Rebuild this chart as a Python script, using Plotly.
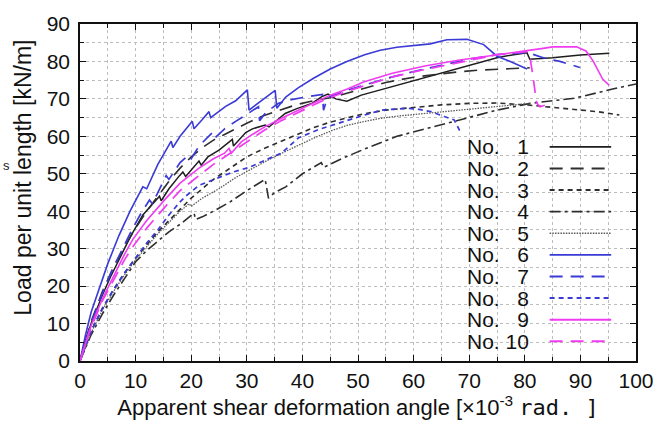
import plotly.graph_objects as go

# ---------------- data ----------------
labels = ["No.\u2007 1", "No.\u2007 2", "No.\u2007 3", "No.\u2007 4", "No.\u2007 5",
          "No.\u2007 6", "No.\u2007 7", "No.\u2007 8", "No.\u2007 9", "No. 10"]

x1 = [0, 1, 2, 4, 5.5, 7.1, 9, 11.3, 12.5, 14.3, 14.6, 16, 17.9, 18.5, 19, 21.4, 21.8, 23, 25, 27.4, 27.6,
      29.8, 31, 33.3, 34, 36.9, 39, 41.7, 43.5, 44.6, 46, 48, 50.6, 53, 56.5, 60, 63, 66, 69, 72, 75, 78,
      80.4, 80.9, 85, 90, 95.2]
y1 = [0, 5.5, 10, 17.5, 22.5, 27.5, 33, 39, 41, 44, 42.8, 46, 49.5, 50.5, 49.3, 53.4, 52.3, 54.5, 56.3, 59.2, 57.4,
      61, 62, 63, 62.5, 66.1, 67.4, 68.8, 70.6, 71.3, 70.0, 69.4, 71.0, 72.0, 73.4, 74.8, 76.1, 77.4, 78.7, 79.9, 81,
      81.8, 82.3, 80.6, 81.0, 81.7, 82.2]

x2 = [0, 1, 2, 4, 6, 8, 10, 12, 14, 16, 18, 20, 22, 24, 26, 28, 30, 33, 36, 39, 42, 45, 48, 51, 55, 60, 64, 68,
      72, 76, 80.9]
y2 = [0, 5.5, 10.5, 18.5, 25, 30.5, 35.5, 40, 44, 48, 51.5, 54.5, 57, 59, 60.5, 62, 63.5, 65.5, 67, 68.5, 69.5,
      70.3, 71.5, 72.8, 74.4, 75.8, 76.6, 77.2, 77.7, 78, 78.3]

x3 = [0, 2, 4, 6, 8, 10, 12, 14, 16, 18, 20, 22, 24, 26, 28, 30, 33, 36, 39, 42, 45, 48, 51, 55, 60, 65, 70, 75,
      81, 87, 93, 97]
y3 = [0, 8, 14, 19, 23.5, 27.5, 31, 34.5, 37.5, 40.5, 43.5, 46, 48.5, 50.5, 52.5, 54.5, 56.7, 58.6, 60.6, 62.3,
      63.8, 65, 66, 67, 67.8, 68.4, 68.8, 68.9, 68.3, 67.5, 66.6, 65.7]

x4 = [0, 2, 4, 6, 8, 10, 12, 14, 16, 18, 20.5, 20.8, 22, 24, 27, 30, 33.3, 33.9, 35, 37, 40, 43.4, 43.8, 47, 51,
      57, 63, 69, 75, 81, 89, 96, 100]
y4 = [0, 7, 12.5, 17.5, 22, 26.5, 29.5, 32, 34.5, 36.5, 39.5, 37.8, 38.5, 40, 42.5, 45.5, 48.5, 43.5, 45, 46.5,
      50, 53, 51.7, 54, 56.5, 60, 62.3, 64.8, 67, 68.8, 70.2, 72.7, 74]

x5 = [0, 2, 4, 6, 8, 10, 12, 14, 16, 18, 19.6, 20, 22, 25, 28, 31, 34, 37, 39.3, 42, 45.2, 48, 51.2, 54, 57.1,
      60, 63.1, 66, 69, 72, 75, 78, 80.9]
y5 = [0, 7.5, 13.5, 18.5, 23, 27, 30.5, 34, 37, 40, 42, 41.3, 43.5, 46, 49, 51.5, 53.8, 56, 57.6, 59.5, 61.5,
      62.9, 64, 64.8, 65.4, 65.8, 66.2, 66.6, 67, 67.5, 67.9, 68.4, 68.8]

x6 = [0, 1, 2, 3.6, 5, 7, 9, 11.3, 12, 14, 16.4, 16.7, 18, 20.2, 20.5, 22, 23.2, 23.5, 26.2, 28, 30.1, 30.4, 33,
      35.1, 35.4, 37, 39.3, 42, 45, 48, 51.2, 54, 57, 60, 63, 66, 69.6, 72.6, 75, 77.4, 80.4]
y6 = [0, 7, 13, 20, 26, 33.5, 40, 46.5, 46, 52.5, 58.7, 57, 60, 64, 62, 64.5, 66.6, 65, 68, 69.5, 72.4, 67, 70,
      72.3, 67.5, 70.5, 73, 75.5, 78, 80, 81.8, 83, 83.8, 84.2, 84.7, 85.8, 85.9, 84.5, 81.4, 80, 78]

x7 = [0, 2, 4, 6, 8, 9.5, 11, 12.5, 13, 15.5, 16, 18, 19.5, 20, 21.4, 23.8, 24.2, 26, 28, 30, 32.1, 32.3, 33.5,
      35.7, 38, 41, 43.6, 43.8, 44.5, 48, 52, 56, 60, 65, 70, 75, 80.4, 83.3, 86.3, 89.9]
y7 = [0, 10, 18, 25, 31, 35.5, 39.5, 43, 42, 49.5, 48.5, 53, 55, 54, 57.4, 61, 59.5, 62, 64, 66, 67.9, 64.2, 66.5,
      68.8, 69.8, 70.6, 71.2, 67, 70.3, 72.3, 74.1, 75.8, 77.3, 79, 80.6, 81.8, 82.4, 81, 80, 78.4]

x8 = [0, 2, 4, 6, 8, 10, 12, 14, 16, 18, 19, 21.4, 24, 27.4, 30.4, 33, 36.3, 39.3, 42.9, 45, 48.2, 51, 54.2,
      58.9, 61, 63.1, 65.5, 67.3, 68.2, 68.3]
y8 = [0, 8, 14, 19, 23.5, 27.5, 31.5, 35, 39, 42.5, 44, 46.9, 48.5, 50.4, 51.7, 53.5, 55.6, 59.6, 61.8, 62.8, 64.4,
      65.6, 67, 67.5, 67.2, 66.6, 65.3, 64.4, 61.8, 60.5]

x9 = [0, 1, 2, 4, 6, 8, 9.5, 12, 15.5, 18, 21.4, 24, 26, 26.8, 27.2, 29, 31, 33.3, 36.9, 41.7, 45, 48.2, 51, 56,
      62, 68, 72.6, 77.4, 80.4, 83.3, 85, 89.3, 91, 92.3, 94, 95.2]
y9 = [0, 5, 9.5, 16.5, 22.5, 28.5, 32.5, 37.5, 43.5, 47.5, 51.5, 54, 55.5, 56.8, 55.5, 58.5, 60.5, 62.6, 65.3,
      68.8, 71, 72.7, 74.5, 76.8, 78.8, 80.3, 81.2, 82.3, 82.9, 83.5, 83.9, 83.9, 82.8, 80.1, 75.3, 73.6]

x10 = [0, 1, 2, 4, 6, 8, 9.5, 12, 15.5, 18, 21.4, 24, 27, 30, 33, 36, 40, 44, 48, 52, 56, 60, 65, 70, 75, 80.4,
       81, 81.5, 81.8, 82.1, 82.7, 83.6]
y10 = [0, 4.5, 9, 16, 21.5, 27, 30.5, 35.5, 41.5, 45.5, 49.5, 52.5, 55.5, 58.5, 61.5, 64, 67, 69.8, 72, 74,
       75.8, 77.2, 78.8, 80.4, 81.8, 82.6, 80.5, 75.8, 72, 69, 67.9, 68.3]

x_ticks = [0, 10, 20, 30, 40, 50, 60, 70, 80, 90, 100]
y_ticks = [0, 10, 20, 30, 40, 50, 60, 70, 80, 90]

xs = [x1, x2, x3, x4, x5, x6, x7, x8, x9, x10]
ys = [y1, y2, y3, y4, y5, y6, y7, y8, y9, y10]

# ---------------- styles ----------------
BLACK = "#1e1e1e"
DGRAY = "#2e2e2e"
GRAY = "#5a5a5a"
BLUE = "#3a3ad6"
MAG = "#f03cf0"
colors = [BLACK, DGRAY, DGRAY, DGRAY, GRAY, BLUE, BLUE, BLUE, MAG, MAG]
dashes = ["solid", "13px,8px", "5px,4px", "11px,4px,3px,4px", "1.5px,1.2px",
          "solid", "13px,8px", "5px,4px", "solid", "13px,8px"]
widths = [1.5, 1.6, 1.6, 1.6, 1.3, 1.6, 1.7, 1.7, 1.6, 1.7]

FONT = "Liberation Sans, Arial, sans-serif"

fig = go.Figure()
for i in range(10):
    fig.add_trace(go.Scatter(x=xs[i], y=ys[i], mode="lines", name=labels[i],
                             line=dict(color=colors[i], dash=dashes[i], width=widths[i]),
                             showlegend=False))

# plot area at x 80..640, y 19..362 of the 666x421 page (body margin removed below)
W, H = 666, 421
L, R, T, B = 80, 26, 19, 59
pw, ph = W - L - R, H - T - B


def px_to_paper_x(px):
    return (px - L) / pw


def px_to_paper_y(py):
    return (H - B - py) / ph


# custom legend: text on the left, line sample on the right
shapes = []
annotations = []
for i in range(10):
    py = 144 + 22.0 * i
    annotations.append(dict(xref="paper", yref="paper", x=px_to_paper_x(468), y=px_to_paper_y(py),
                            xanchor="left", yanchor="middle", showarrow=False,
                            text=labels[i], font=dict(family=FONT, size=21, color="#111")))
    shapes.append(dict(type="line", xref="paper", yref="paper",
                       x0=px_to_paper_x(553), x1=px_to_paper_x(615),
                       y0=px_to_paper_y(py), y1=px_to_paper_y(py),
                       line=dict(color=colors[i], dash=dashes[i], width=widths[i] + 0.3)))

# y-axis title (placed like the reference: slightly above the plot's centre)
annotations.append(dict(xref="paper", yref="paper", x=px_to_paper_x(23), y=px_to_paper_y(175),
                        xanchor="center", yanchor="middle", showarrow=False, textangle=-90,
                        text="Load per unit length [kN/m]",
                        font=dict(family=FONT, size=23, color="#111")))

# stray glyph at the left edge of the reference image
annotations.append(dict(xref="paper", yref="paper", x=px_to_paper_x(0), y=px_to_paper_y(163),
                        xanchor="left", yanchor="middle", showarrow=False, text="s",
                        font=dict(family=FONT, size=13, color="#222")))

axis_common = dict(
    showline=True, linecolor="#111", linewidth=1.5, mirror="ticks",
    ticks="inside", ticklen=6, tickcolor="#111", tickwidth=1,
    showgrid=True, gridcolor="#bdbdbd", gridwidth=1, griddash="dot",
    zeroline=False,
    tickfont=dict(family=FONT, size=21, color="#111"),
    minor=dict(dtick=5, showgrid=True, gridcolor="#bdbdbd", griddash="dot",
               ticks="inside", ticklen=4, tickcolor="#111"),
)

x_title = ("Apparent shear deformation angle [\u00d710<sup>-3</sup> "
           "<span style='font-family:DejaVu Sans Mono'>rad.\u00a0]</span>")

fig.update_layout(
    width=W, height=H,
    margin=dict(l=L, r=R, t=T, b=B, pad=0),
    paper_bgcolor="white", plot_bgcolor="white",
    font=dict(family=FONT, color="#111"),
    xaxis=dict(range=[0, 100], tickvals=x_ticks, ticktext=[str(v) for v in x_ticks],
               title=dict(text=x_title, font=dict(family=FONT, size=22, color="#111"), standoff=2),
               **axis_common),
    yaxis=dict(range=[0, 90], tickvals=y_ticks, ticktext=[str(v) for v in y_ticks],
               ticklabelstandoff=4, **axis_common),
    shapes=shapes,
    annotations=annotations,
)

fig.write_html("out.html", config={"displayModeBar": False},
               post_script="document.body.style.margin='0';document.body.style.overflow='hidden';")
